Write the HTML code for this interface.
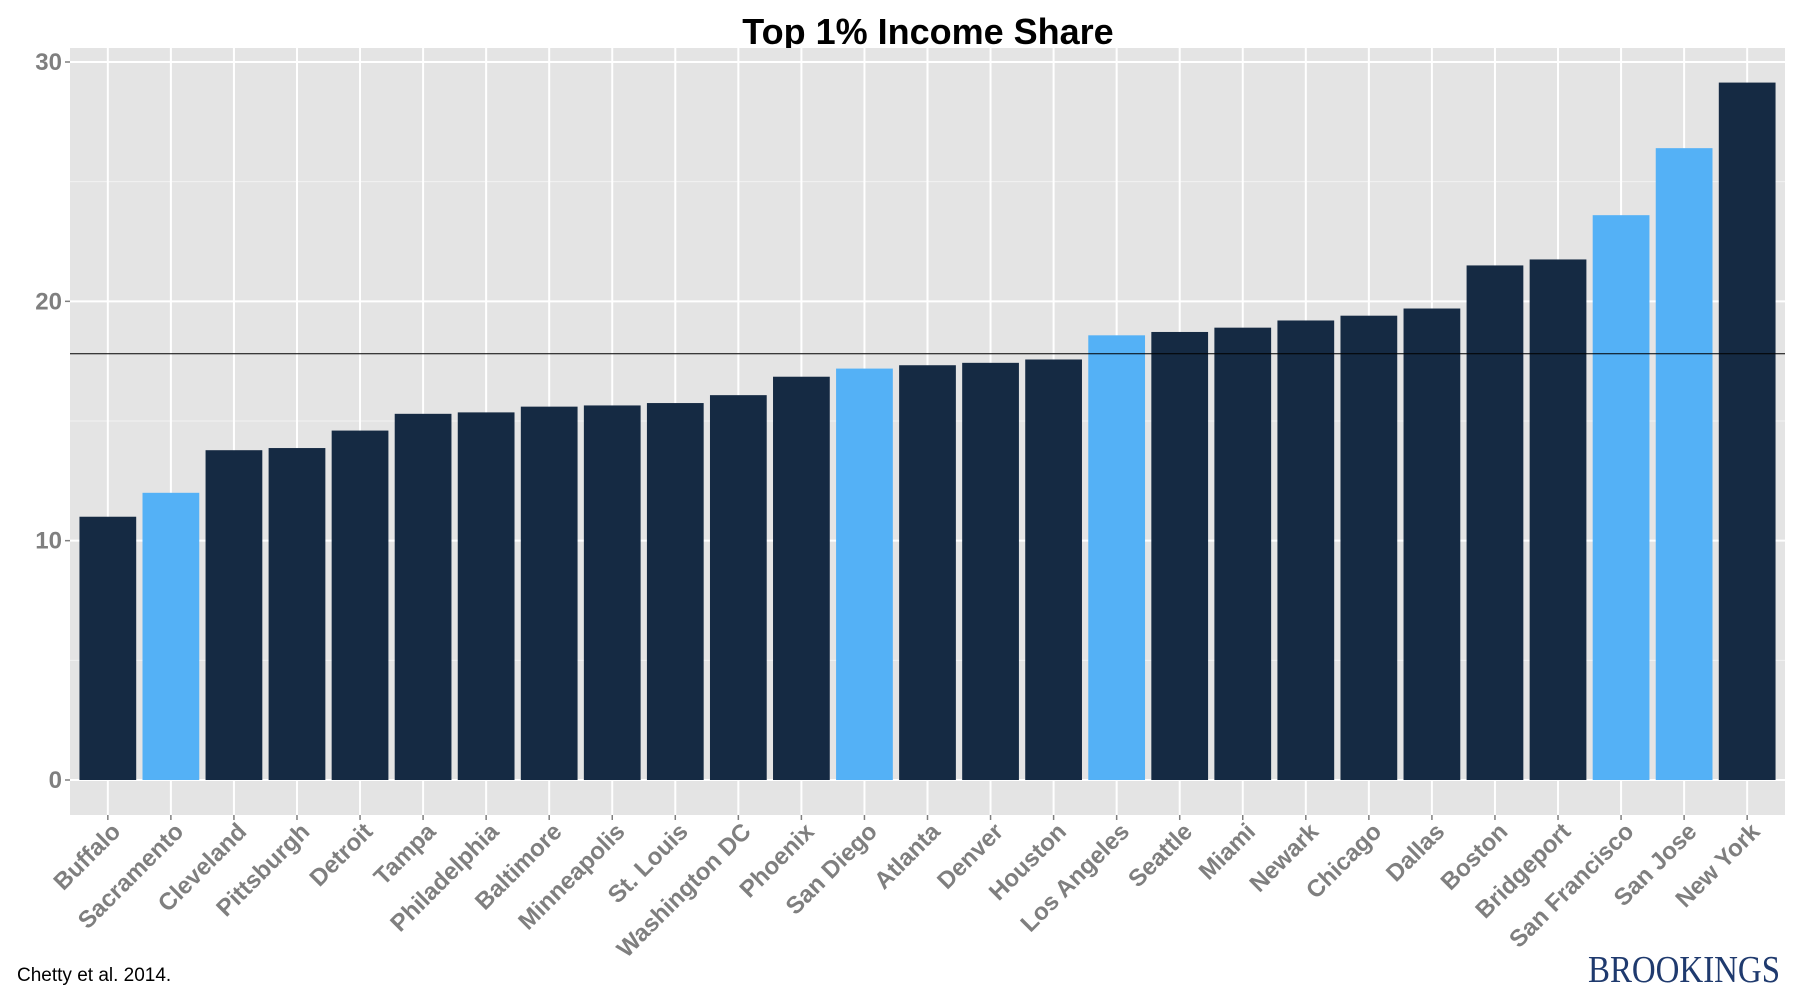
<!DOCTYPE html>
<html><head><meta charset="utf-8"><style>body{margin:0;background:#fff}svg{display:block}</style></head>
<body>
<svg id="chart" width="1800" height="1000" xmlns="http://www.w3.org/2000/svg" font-family="Liberation Sans, sans-serif">
<text x="928" y="44" text-anchor="middle" font-size="36" font-weight="bold">Top 1% Income Share</text>
<rect x="70" y="48" width="1715" height="767" fill="#e4e4e4"/>
<g id="grid"></g><g id="bars"></g><g id="axes"></g>
<text x="17" y="981" font-size="19">Chetty et al. 2014.</text>
<text x="1588" y="982" font-family="Liberation Serif, serif" font-size="38" fill="#1f3a6e" textLength="192" lengthAdjust="spacingAndGlyphs">BROOKINGS</text>
</svg>
<script>
const categories=["Buffalo","Sacramento","Cleveland","Pittsburgh","Detroit","Tampa","Philadelphia","Baltimore","Minneapolis","St. Louis","Washington DC","Phoenix","San Diego","Atlanta","Denver","Houston","Los Angeles","Seattle","Miami","Newark","Chicago","Dallas","Boston","Bridgeport","San Francisco","San Jose","New York"];
const values=[11.0,12.0,13.78,13.87,14.6,15.3,15.36,15.6,15.65,15.75,16.08,16.85,17.19,17.33,17.43,17.57,18.58,18.72,18.9,19.2,19.4,19.7,21.5,21.75,23.6,26.4,29.14];
const highlighted=[false,true,false,false,false,false,false,false,false,false,false,false,true,false,false,false,true,false,false,false,false,false,false,false,true,true,false];
const yTicks=[0,10,20,30];
const referenceLine=17.81;
const NS="http://www.w3.org/2000/svg";
const L=70,R=1785,T=48,B=815,y0=780,y30=62;
const step=(R-L)/(categories.length+0.2);
function xs(i){return L+step*(0.6+i);}
function ys(v){return y0-(y0-y30)*v/30;}
function mk(p,tag,a){const e=document.createElementNS(NS,tag);for(const k in a)e.setAttribute(k,a[k]);p.appendChild(e);return e;}
const grid=document.getElementById('grid'),bars=document.getElementById('bars'),axes=document.getElementById('axes');
for(let v=5;v<=30;v+=10){const g=mk(grid,'line',{x1:L,x2:R,y1:ys(v),y2:ys(v),stroke:'#f2f2f2','stroke-width':1});

}
yTicks.forEach(v=>{const g=mk(grid,'line',{x1:L,x2:R,y1:ys(v),y2:ys(v),stroke:'#fff','stroke-width':2});


const t=mk(axes,'line',{x1:L-5,x2:L,y1:ys(v),y2:ys(v),stroke:'#7f7f7f','stroke-width':1.5});


const lb=mk(axes,'text',{x:L-8,y:ys(v)+8,'text-anchor':'end','font-size':24,'font-weight':'bold',fill:'#7f7f7f'});lb.textContent=v;

});
categories.forEach((c,i)=>{const x=xs(i);
const g=mk(grid,'line',{x1:x,x2:x,y1:T,y2:B,stroke:'#fff','stroke-width':2});


const w=step*0.9;
const b=mk(bars,'rect',{x:x-w/2,y:ys(values[i]),width:w,height:ys(0)-ys(values[i]),fill:highlighted[i]?'#54b1f6':'#152a43'});


const t=mk(axes,'line',{x1:x,x2:x,y1:B,y2:B+5,stroke:'#7f7f7f','stroke-width':1.5});


const lb=mk(axes,'text',{transform:`translate(${x+14},${B+18}) rotate(-45)`,'text-anchor':'end','font-size':24,'font-weight':'bold',fill:'#7f7f7f'});lb.textContent=c;

});
const rl=mk(axes,'line',{x1:L,x2:R,y1:ys(referenceLine),y2:ys(referenceLine),stroke:'#000','stroke-width':1});


</script>
</body></html>
